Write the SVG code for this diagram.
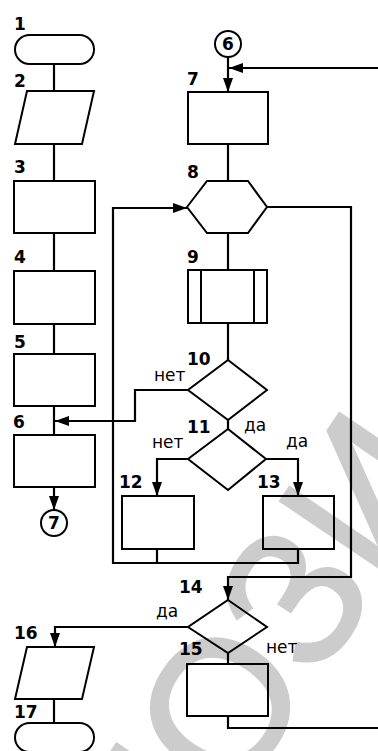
<svg xmlns="http://www.w3.org/2000/svg" width="378" height="751" viewBox="0 0 378 751">
<style>
.s{fill:none;stroke:#000;stroke-width:2}
.c{fill:none;stroke:#000;stroke-width:2.2}
.n{font-family:"DejaVu Sans",sans-serif;font-weight:bold;font-size:17px;fill:#000}
.t{font-family:"DejaVu Sans",sans-serif;font-size:17px;fill:#000}
.wm{font-family:"Liberation Sans",Arial,sans-serif;font-size:190px;fill:#cccccc;stroke:#cccccc;stroke-width:3}
</style>
<defs>
<marker id="a" markerUnits="userSpaceOnUse" markerWidth="14" markerHeight="10" refX="14" refY="5" orient="auto">
<path d="M0,0 L14,5 L0,10 Z" fill="#000"/>
</marker>
</defs>
<rect width="378" height="751" fill="#fff"/>
<g id="watermark">
<text class="wm" transform="translate(157,918) rotate(-56)">ПОЗИ</text>
</g>
<g id="connectors">
<path class="c" d="M54,64 V91"/>
<path class="c" d="M54,144 V181"/>
<path class="c" d="M54,233 V271"/>
<path class="c" d="M54,324 V354"/>
<path class="c" d="M54,406 V435"/>
<path class="c" d="M54,487 V510" marker-end="url(#a)"/>
<path class="c" d="M228,57 V92" marker-end="url(#a)"/>
<path class="c" d="M378,68 H229" marker-end="url(#a)"/>
<path class="c" d="M228,144 V181"/>
<path class="c" d="M228,233 V270"/>
<path class="c" d="M228,323 V360"/>
<path class="c" d="M228,420 V429"/>
<path class="c" d="M188,390 H135 V421 H55" marker-end="url(#a)"/>
<path class="c" d="M188,459 H157 V496" marker-end="url(#a)"/>
<path class="c" d="M266,459 H298 V496" marker-end="url(#a)"/>
<path class="c" d="M157,549 V563"/>
<path class="c" d="M298,549 V563 H113 V208 H187" marker-end="url(#a)"/>
<path class="c" d="M267,207 H351 V577 H228 V600" marker-end="url(#a)"/>
<path class="c" d="M188,627 H55 V647" marker-end="url(#a)"/>
<path class="c" d="M228,653 V664"/>
<path class="c" d="M228,716 V728 H378"/>
<path class="c" d="M54,699 V723"/>
</g>
<g id="n1"><rect class="s" x="15" y="35" width="79" height="29" rx="14.5"/><text class="n" x="14" y="30">1</text></g>
<g id="n2"><polygon class="s" points="27,91 94,91 82,144 15,144"/><text class="n" x="14" y="87">2</text></g>
<g id="n3"><rect class="s" x="14" y="181" width="81" height="52"/><text class="n" x="14" y="173">3</text></g>
<g id="n4"><rect class="s" x="14" y="271" width="81" height="53"/><text class="n" x="14" y="263">4</text></g>
<g id="n5"><rect class="s" x="14" y="354" width="81" height="52"/><text class="n" x="14" y="348">5</text></g>
<g id="n6"><rect class="s" x="14" y="435" width="81" height="52"/><text class="n" x="13" y="428">6</text></g>
<g id="c7"><circle class="s" cx="54" cy="523" r="13"/><text class="n" x="54" y="529" text-anchor="middle">7</text></g>
<g id="c6"><circle class="s" cx="228" cy="44" r="13"/><text class="n" x="228" y="50" text-anchor="middle">6</text></g>
<g id="n7"><rect class="s" x="188" y="92" width="80" height="52"/><text class="n" x="187" y="85">7</text></g>
<g id="n8"><polygon class="s" points="187,207 207,181 248,181 267,207 248,233 207,233"/><text class="n" x="187" y="178">8</text></g>
<g id="n9"><rect class="s" x="188" y="270" width="79" height="53"/><line class="s" x1="201" y1="270" x2="201" y2="323"/><line class="s" x1="254" y1="270" x2="254" y2="323"/><text class="n" x="187" y="263">9</text></g>
<g id="n10"><polygon class="s" points="228,360 267,390 228,420 188,390"/><text class="n" x="187" y="365">10</text><text class="t" x="154" y="381">нет</text><text class="t" x="244" y="431">да</text></g>
<g id="n11"><polygon class="s" points="228,429 266,459 228,490 188,459"/><text class="n" x="187" y="433">11</text><text class="t" x="152" y="448">нет</text><text class="t" x="286" y="447">да</text></g>
<g id="n12"><rect class="s" x="122" y="496" width="72" height="53"/><text class="n" x="119" y="488">12</text></g>
<g id="n13"><rect class="s" x="263" y="496" width="71" height="53"/><text class="n" x="257" y="488">13</text></g>
<g id="n14"><polygon class="s" points="228,600 267,627 228,653 188,627"/><text class="n" x="179" y="593">14</text><text class="t" x="156" y="617">да</text><text class="t" x="266" y="653">нет</text></g>
<g id="n15"><rect class="s" x="187" y="664" width="81" height="52"/><text class="n" x="179" y="655">15</text></g>
<g id="n16"><polygon class="s" points="27,647 94,647 82,699 15,699"/><text class="n" x="14" y="639">16</text></g>
<g id="n17"><rect class="s" x="15" y="723" width="79" height="29" rx="14.5"/><text class="n" x="14" y="718">17</text></g>
</svg>
